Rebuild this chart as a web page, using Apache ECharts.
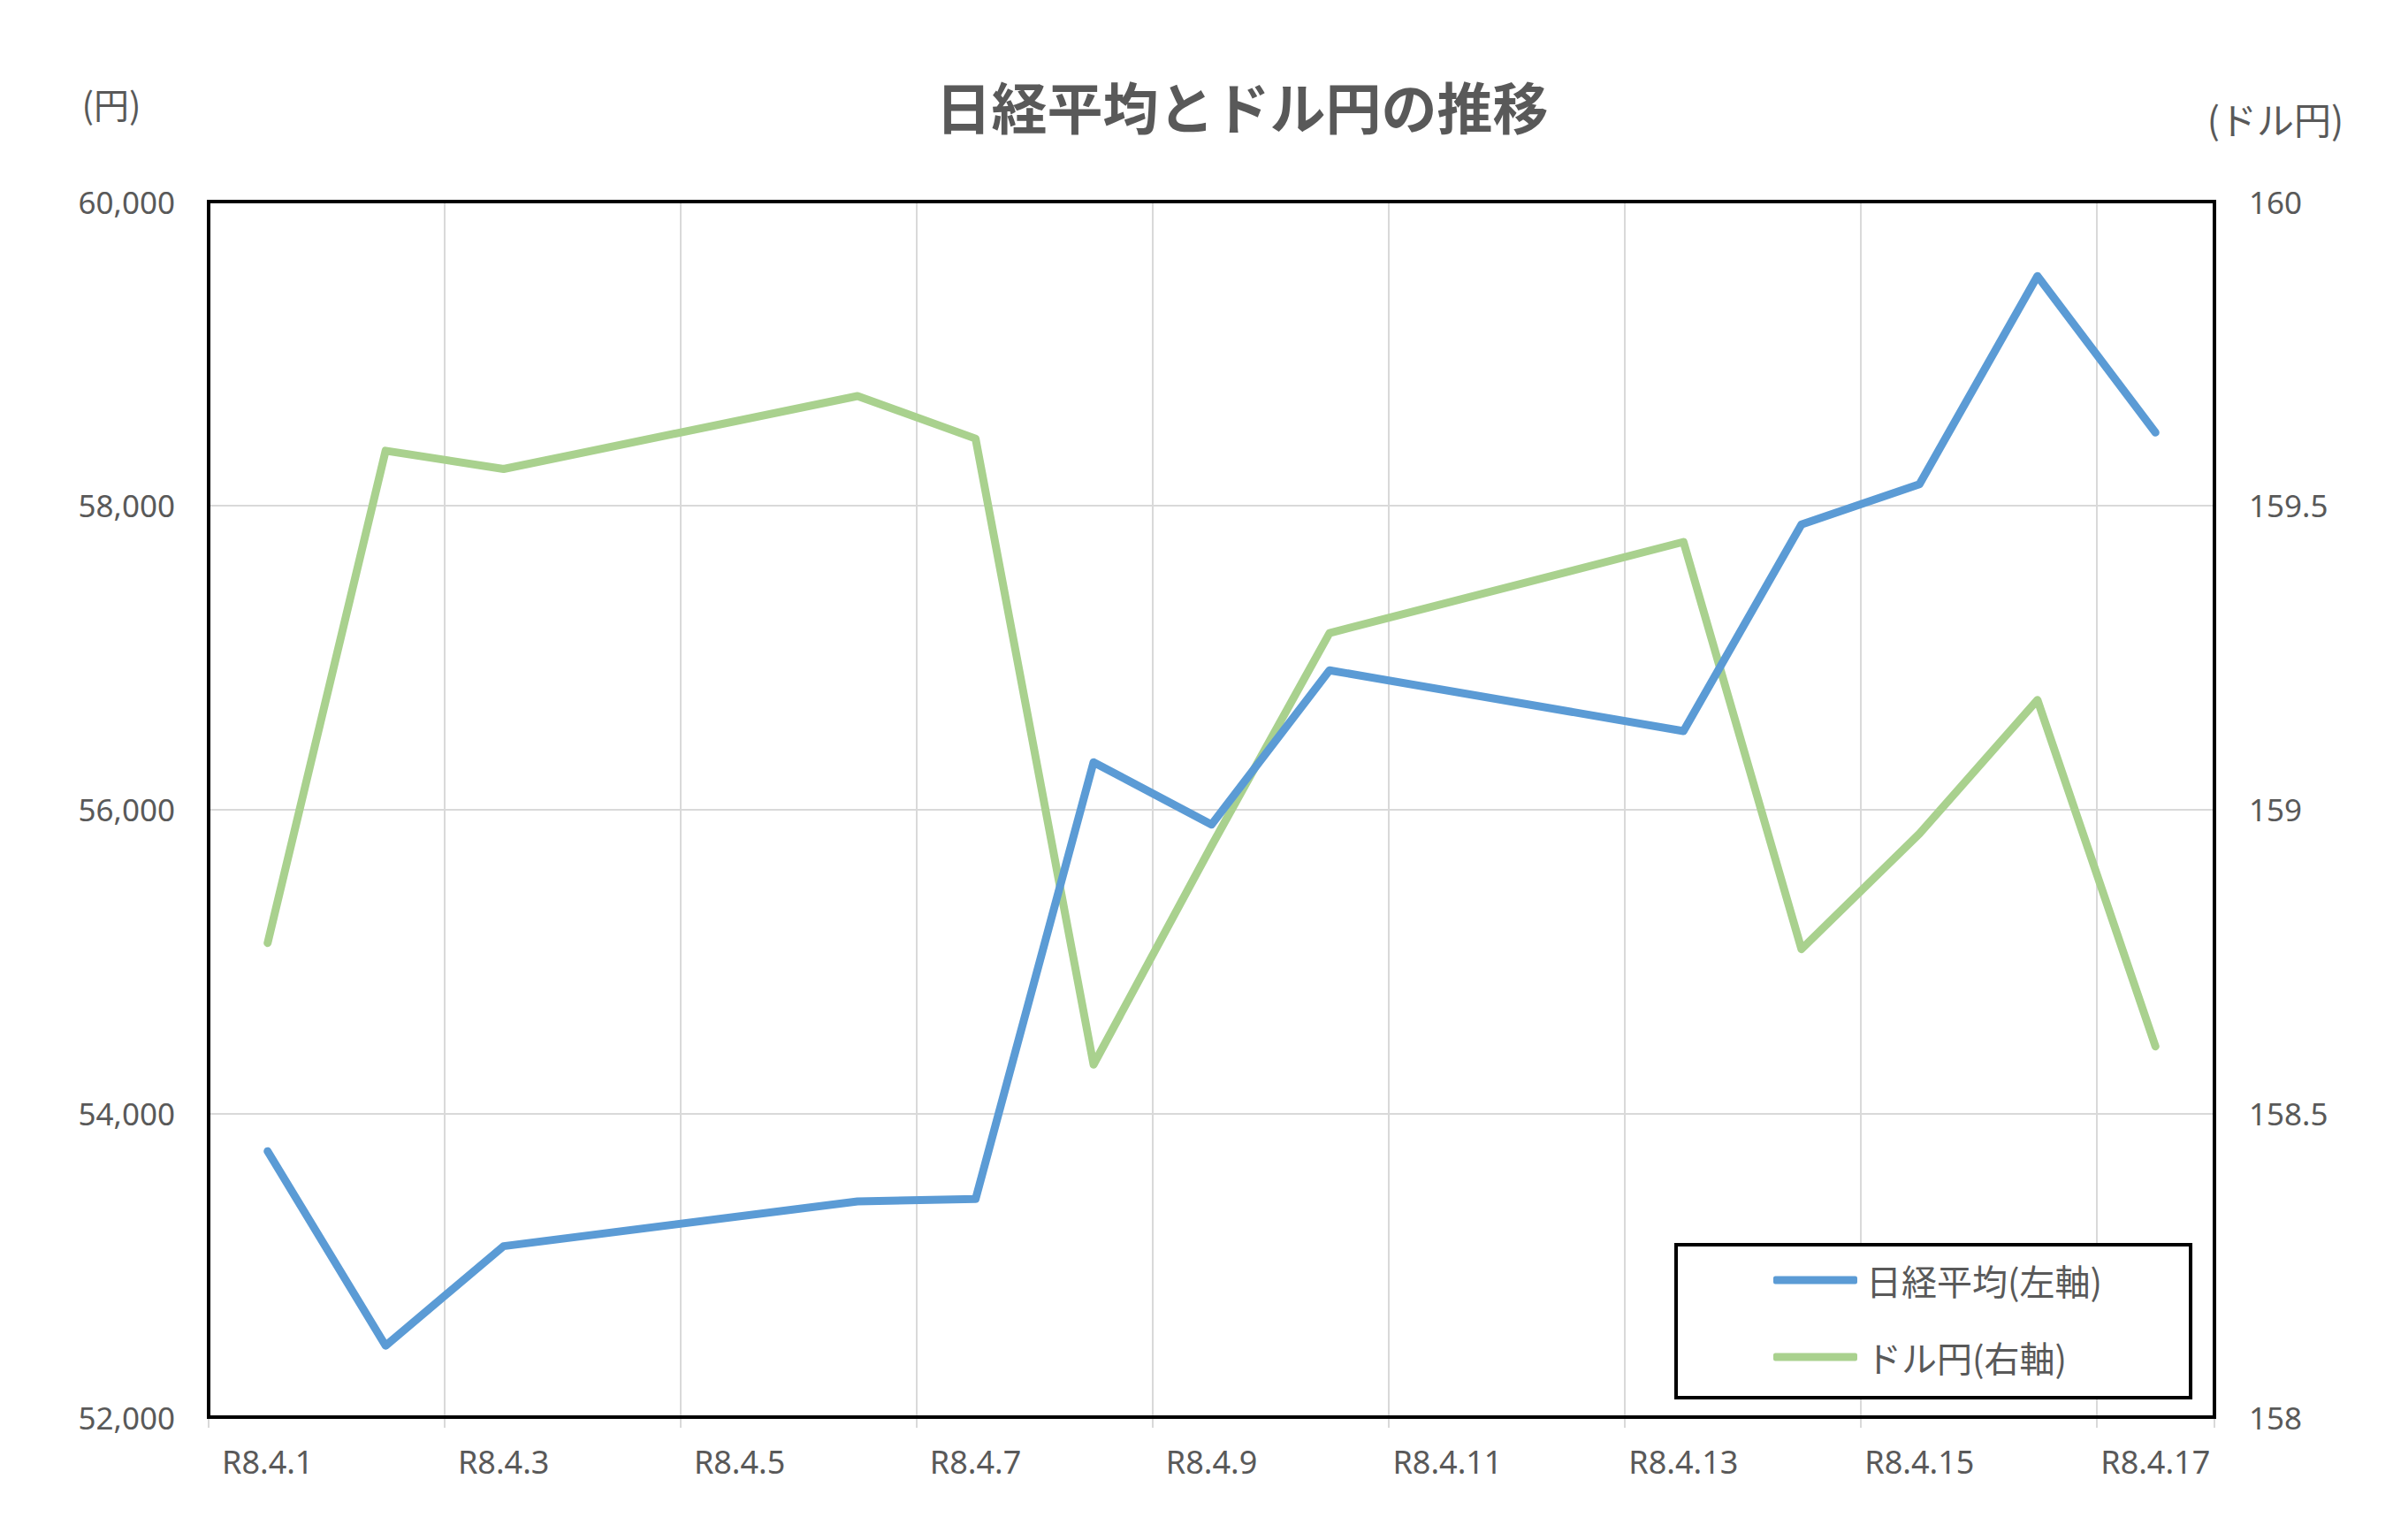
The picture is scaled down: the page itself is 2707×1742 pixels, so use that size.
<!DOCTYPE html>
<html>
<head>
<meta charset="utf-8">
<script src="https://cdn.jsdelivr.net/npm/echarts@6/dist/echarts.min.js"></script>
<style>
html,body{margin:0;padding:0;background:#fff;}
#chart{width:2707px;height:1742px;}
</style>
</head>
<body>
<div id="chart"></div>
<script>
const chartTitle = '日経平均とドル円の推移';
const categories = ['R8.4.1','R8.4.2','R8.4.3','R8.4.4','R8.4.5','R8.4.6','R8.4.7','R8.4.8','R8.4.9','R8.4.10','R8.4.11','R8.4.12','R8.4.13','R8.4.14','R8.4.15','R8.4.16','R8.4.17'];
const nikkeiName = '日経平均(左軸)';
const nikkei = [53750, 52470, 53125, null, null, 53420, 53435, 56310, 55900, 56915, null, null, 56515, 57875, 58140, 59510, 58480];
const usdName = 'ドル円(右軸)';
const usdjpy = [158.78, 159.59, 159.56, null, null, 159.68, 159.61, 158.58, 158.94, 159.29, null, null, 159.44, 158.77, 158.96, 159.18, 158.61];
const leftAxis = {min: 52000, max: 60000, interval: 2000, unit: '(円)'};
const rightAxis = {min: 158, max: 160, interval: 0.5, unit: '(ドル円)'};

const FONT = "'Noto Sans', 'Noto Sans CJK JP', sans-serif";
const TXT = '#595959';
const chart = echarts.init(document.getElementById('chart'), null, {renderer: 'svg'});
chart.setOption({
  animation: false,
  backgroundColor: '#ffffff',
  textStyle: {fontFamily: FONT},
  title: {
    text: chartTitle,
    left: 1400, top: 82, textAlign: 'center',
    textStyle: {fontFamily: "'Noto Sans CJK JP', sans-serif", fontSize: 63, fontWeight: 'bold', color: TXT}
  },
  graphic: [
    {type: 'text', x: 126, y: 117, z: 20, style: {text: leftAxis.unit, fill: TXT, font: "40px 'Noto Sans CJK JP', sans-serif", textAlign: 'center', textVerticalAlign: 'middle'}},
    {type: 'text', x: 2574, y: 133, z: 20, style: {text: rightAxis.unit, fill: TXT, font: "42px 'Noto Sans CJK JP', sans-serif", textAlign: 'center', textVerticalAlign: 'middle'}}
  ],
  legend: {
    orient: 'vertical',
    left: 1896, top: 1408,
    padding: [20, 100, 26, 110],
    backgroundColor: '#ffffff',
    borderColor: '#000000', borderWidth: 4, borderRadius: 0,
    itemWidth: 95, itemHeight: 9, itemGap: 47,
    icon: 'roundRect',
    textStyle: {fontFamily: "'Noto Sans CJK JP', sans-serif", fontSize: 40, color: TXT, lineHeight: 40, padding: [0, 0, 0, 5]},
    data: [nikkeiName, usdName],
    z: 20
  },
  grid: {
    left: 236, right: 202, top: 228, bottom: 139, z: 10,
    show: true, borderColor: '#000000', borderWidth: 4, backgroundColor: 'transparent'
  },
  xAxis: {
    type: 'category',
    data: categories,
    boundaryGap: true,
    axisLine: {show: true, lineStyle: {color: '#D9D9D9', width: 2}},
    axisTick: {show: true, interval: 1, length: 12, lineStyle: {color: '#D9D9D9', width: 2}},
    axisLabel: {interval: 1, fontSize: 36, color: TXT, margin: 32, fontFamily: FONT},
    splitLine: {show: true, interval: 1, lineStyle: {color: '#D9D9D9', width: 2}}
  },
  yAxis: [
    {
      type: 'value', position: 'left',
      min: leftAxis.min, max: leftAxis.max, interval: leftAxis.interval,
      axisLine: {show: false}, axisTick: {show: false},
      axisLabel: {fontSize: 35, color: TXT, margin: 38, fontFamily: FONT},
      splitLine: {show: true, lineStyle: {color: '#D9D9D9', width: 2}}
    },
    {
      type: 'value', position: 'right',
      min: rightAxis.min, max: rightAxis.max, interval: rightAxis.interval,
      axisLine: {show: false}, axisTick: {show: false},
      axisLabel: {fontSize: 35, color: TXT, margin: 39, fontFamily: FONT},
      splitLine: {show: false}
    }
  ],
  series: [
    {
      name: nikkeiName, type: 'line', yAxisIndex: 0, data: nikkei,
      connectNulls: true, showSymbol: false, symbol: 'none',
      lineStyle: {color: '#5B9BD5', width: 9, cap: 'round', join: 'round'},
      itemStyle: {color: '#5B9BD5'}, z: 3
    },
    {
      name: usdName, type: 'line', yAxisIndex: 1, data: usdjpy,
      connectNulls: true, showSymbol: false, symbol: 'none',
      lineStyle: {color: '#A9D18E', width: 9, cap: 'round', join: 'round'},
      itemStyle: {color: '#A9D18E'}, z: 2
    }
  ]
});
</script>
</body>
</html>
